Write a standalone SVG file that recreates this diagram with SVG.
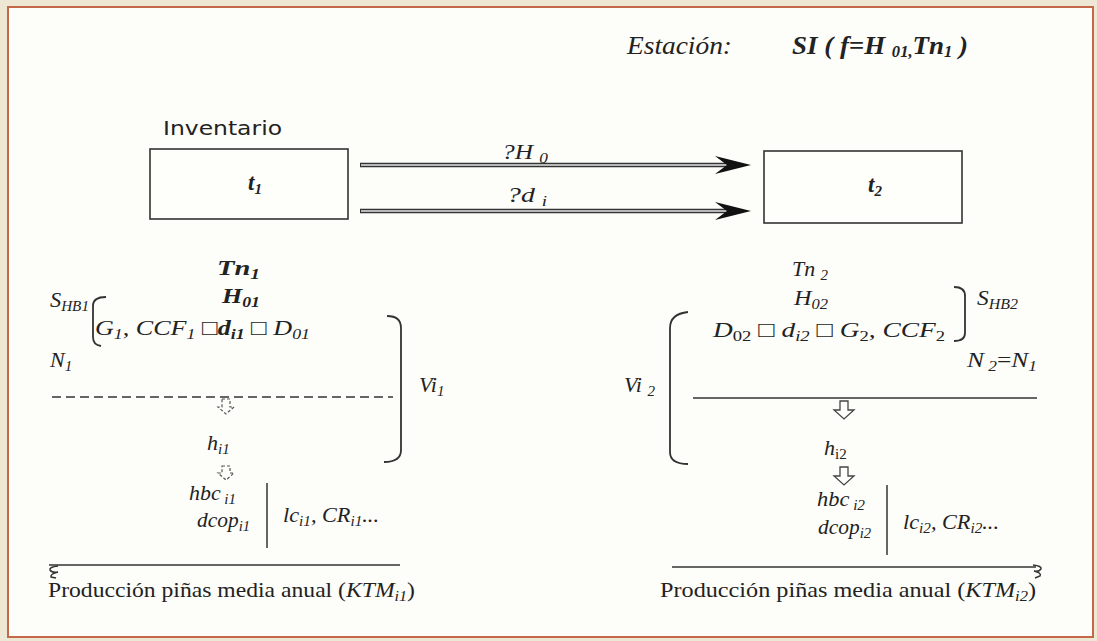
<svg xmlns="http://www.w3.org/2000/svg" width="1097" height="641" viewBox="0 0 1097 641">
<defs>
<style>
.box{fill:#fefefb;stroke:#333;stroke-width:1.6}
.ln{fill:none;stroke:#333;stroke-width:1.5}
.br{fill:none;stroke:#333;stroke-width:1.8}
.dash{fill:none;stroke:#333;stroke-width:1.4;stroke-dasharray:9 5}
.harrow{fill:#fefefb;stroke:#444;stroke-width:1.3}
.harrowd{fill:#fefefb;stroke:#555;stroke-width:1.2;stroke-dasharray:3 2}
.shaftO{stroke:#333;stroke-width:4.5;fill:none}
.shaftI{stroke:#b8b8b8;stroke-width:2;fill:none}
.head{fill:#111}
</style>
</defs>
<rect x="0" y="0" width="1097" height="641" fill="#ede7d3"/>
<rect x="8" y="7" width="1085" height="630" fill="#fdfdf9" stroke="#c4684a" stroke-width="2"/>

<g id="title" font-family="Liberation Serif" font-style="italic" fill="#222">
<text x="627" y="54" font-size="25" textLength="105" lengthAdjust="spacingAndGlyphs" font-family="Liberation Serif" font-style="italic">Estación:</text>
<text x="792" y="54" font-size="26" font-weight="bold" textLength="176" lengthAdjust="spacingAndGlyphs" font-family="Liberation Serif" font-style="italic">SI ( f=H <tspan font-size="16" dy="3">01,</tspan><tspan dy="-3">Tn</tspan><tspan font-size="16" dy="3">1</tspan><tspan dy="-3"> )</tspan></text>
</g>

<g id="node-t1">
<text x="163" y="135" font-family="DejaVu Sans" font-size="20" fill="#222" textLength="119" lengthAdjust="spacingAndGlyphs">Inventario</text>
<rect class="box" x="150" y="149" width="198" height="70"/>
<text x="248" y="190" font-family="Liberation Serif" font-style="italic" font-weight="bold" font-size="23" fill="#222">t<tspan font-size="15" dy="4">1</tspan></text>
</g>

<g id="node-t2">
<rect class="box" x="764" y="151" width="198" height="72"/>
<text x="868" y="192" font-family="Liberation Serif" font-style="italic" font-weight="bold" font-size="23" fill="#222">t<tspan font-size="15" dy="4">2</tspan></text>
</g>

<g id="connectors" font-family="Liberation Serif" font-style="italic" font-size="22" fill="#222">
<line class="shaftO" x1="360" y1="165" x2="728" y2="165"/>
<line class="shaftI" x1="361" y1="165" x2="728" y2="165"/>
<path class="head" d="M751,165 L715,156 L727,165 L715,174 Z"/>
<line class="shaftO" x1="360" y1="211" x2="728" y2="211"/>
<line class="shaftI" x1="361" y1="211" x2="728" y2="211"/>
<path class="head" d="M751,211 L715,202 L727,211 L715,220 Z"/>
<text x="502" y="159" font-family="Liberation Serif" font-style="italic" textLength="46" lengthAdjust="spacingAndGlyphs">?H <tspan font-size="15" dy="4">0</tspan></text>
<text x="507" y="202" font-family="Liberation Serif" font-style="italic" textLength="40" lengthAdjust="spacingAndGlyphs">?d <tspan font-size="15" dy="4">i</tspan></text>
</g>

<g id="left-block" font-family="Liberation Serif" font-style="italic" font-size="22" fill="#222">
<text x="217" y="275" font-family="Liberation Serif" font-style="italic" font-weight="bold" textLength="43" lengthAdjust="spacingAndGlyphs">Tn<tspan font-size="15" dy="4">1</tspan></text>
<text x="50" y="307" font-family="Liberation Serif" font-style="italic" textLength="39" lengthAdjust="spacingAndGlyphs">S<tspan font-size="15" dy="4">HB1</tspan></text>
<path class="br" d="M106,297 Q93,297 93,306 L93,337 Q93,345 101,346"/>
<text x="222" y="303" font-family="Liberation Serif" font-style="italic" font-weight="bold" textLength="38" lengthAdjust="spacingAndGlyphs">H<tspan font-size="15" dy="4">01</tspan></text>
<text x="95" y="335" font-family="Liberation Serif" font-style="italic" textLength="215" lengthAdjust="spacingAndGlyphs">G<tspan font-size="15" dy="4">1</tspan><tspan dy="-4">, CCF</tspan><tspan font-size="15" dy="4">1</tspan><tspan dy="-4" font-style="normal"> □</tspan><tspan font-weight="bold">d</tspan><tspan font-size="15" font-weight="bold" dy="4">i1</tspan><tspan dy="-4" font-style="normal"> □ </tspan>D<tspan font-size="15" dy="4">01</tspan></text>
<text x="50" y="367" font-family="Liberation Serif" font-style="italic">N<tspan font-size="15" dy="4">1</tspan></text>
<path class="br" d="M387,316 Q401,316 401,328 L401,450 Q401,462 384,462"/>
<text x="419" y="392" font-family="Liberation Serif" font-style="italic">Vi<tspan font-size="15" dy="4">1</tspan></text>
<line class="dash" x1="52" y1="397" x2="393" y2="397"/>
<path class="harrowd" d="M222,399 L230,399 L230,407 L234,407 L226,414 L218,407 L222,407 Z"/>
<text x="207" y="450" font-family="Liberation Serif" font-style="italic">h<tspan font-size="15" dy="4">i1</tspan></text>
<path class="harrowd" d="M222,466 L230,466 L230,473 L234,473 L226,480 L218,473 L222,473 Z"/>
<text x="189" y="500" font-family="Liberation Serif" font-style="italic" textLength="47" lengthAdjust="spacingAndGlyphs">hbc<tspan font-size="15" dy="4"> i1</tspan></text>
<text x="197" y="527" font-family="Liberation Serif" font-style="italic" textLength="53" lengthAdjust="spacingAndGlyphs">dcop<tspan font-size="15" dy="4">i1</tspan></text>
<line class="ln" x1="267" y1="483" x2="267" y2="548"/>
<text x="283" y="522" font-family="Liberation Serif" font-style="italic" textLength="96" lengthAdjust="spacingAndGlyphs">lc<tspan font-size="15" dy="4">i1</tspan><tspan dy="-4">, CR</tspan><tspan font-size="15" dy="4">i1</tspan><tspan dy="-4">...</tspan></text>
<line class="ln" x1="49" y1="565" x2="400" y2="565"/>
<path class="ln" d="M58,566 Q49,567 50,570 Q52,573 58,572 Q50,574 51,577 L56,578"/>
<text x="48" y="597" font-family="Liberation Serif" font-style="normal" font-size="22" textLength="367" lengthAdjust="spacingAndGlyphs">Producción piñas media anual (<tspan font-style="italic">KTM</tspan><tspan font-size="15" font-style="italic" dy="4">i1</tspan><tspan dy="-4">)</tspan></text>
</g>

<g id="right-block" font-family="Liberation Serif" font-style="italic" font-size="22" fill="#222">
<text x="792" y="276" font-family="Liberation Serif" font-style="italic" textLength="36" lengthAdjust="spacingAndGlyphs">Tn <tspan font-size="15" dy="4">2</tspan></text>
<text x="794" y="305" font-family="Liberation Serif" font-style="italic" textLength="34" lengthAdjust="spacingAndGlyphs">H<tspan font-size="15" dy="4">02</tspan></text>
<text x="713" y="337" font-family="Liberation Serif" font-style="italic" textLength="232" lengthAdjust="spacingAndGlyphs">D<tspan font-size="15" font-style="normal" dy="4">02</tspan><tspan dy="-4" font-style="normal"> □  </tspan>d<tspan font-size="15" dy="4">i2</tspan><tspan dy="-4" font-style="normal"> □ </tspan>G<tspan font-size="15" font-style="normal" dy="4">2</tspan><tspan dy="-4">, CCF</tspan><tspan font-size="15" font-style="normal" dy="4">2</tspan></text>
<path class="br" d="M954,287 Q965,287 965,296 L965,333 Q965,341 954,341"/>
<text x="977" y="305" font-family="Liberation Serif" font-style="italic" textLength="41" lengthAdjust="spacingAndGlyphs">S<tspan font-size="15" dy="4">HB2</tspan></text>
<text x="967" y="367" font-family="Liberation Serif" font-style="italic" textLength="70" lengthAdjust="spacingAndGlyphs">N<tspan font-size="15" dy="4"> 2</tspan><tspan dy="-4" font-style="normal">=</tspan>N<tspan font-size="15" dy="4">1</tspan></text>
<path class="br" d="M688,312 Q670,314 670,328 L670,452 Q670,464 688,464"/>
<text x="624" y="392" font-family="Liberation Serif" font-style="italic">Vi <tspan font-size="15" dy="4">2</tspan></text>
<line class="ln" x1="693" y1="398" x2="1037" y2="398"/>
<path class="harrow" d="M840,401 L848,401 L848,410 L854,410 L844,419 L834,410 L840,410 Z"/>
<text x="824" y="455" font-family="Liberation Serif" font-style="italic">h<tspan font-size="15" font-style="normal" dy="4">i2</tspan></text>
<path class="harrow" d="M840,467 L848,467 L848,476 L854,476 L844,485 L834,476 L840,476 Z"/>
<text x="817" y="506" font-family="Liberation Serif" font-style="italic" textLength="48" lengthAdjust="spacingAndGlyphs">hbc<tspan font-size="15" dy="4"> i2</tspan></text>
<text x="818" y="534" font-family="Liberation Serif" font-style="italic" textLength="53" lengthAdjust="spacingAndGlyphs">dcop<tspan font-size="15" dy="4">i2</tspan></text>
<line class="ln" x1="887" y1="485" x2="887" y2="555"/>
<text x="903" y="529" font-family="Liberation Serif" font-style="italic" textLength="96" lengthAdjust="spacingAndGlyphs">lc<tspan font-size="15" dy="4">i2</tspan><tspan dy="-4">, CR</tspan><tspan font-size="15" dy="4">i2</tspan><tspan dy="-4">...</tspan></text>
<line class="ln" x1="672" y1="567" x2="1036" y2="567"/>
<path class="ln" d="M1033,565 Q1042,566 1041,569 Q1039,572 1034,571 Q1042,573 1040,576 L1035,578"/>
<text x="660" y="597" font-family="Liberation Serif" font-style="normal" font-size="22" textLength="376" lengthAdjust="spacingAndGlyphs">Producción piñas media anual (<tspan font-style="italic">KTM</tspan><tspan font-size="15" font-style="italic" dy="4">i2</tspan><tspan dy="-4">)</tspan></text>
</g>
</svg>
